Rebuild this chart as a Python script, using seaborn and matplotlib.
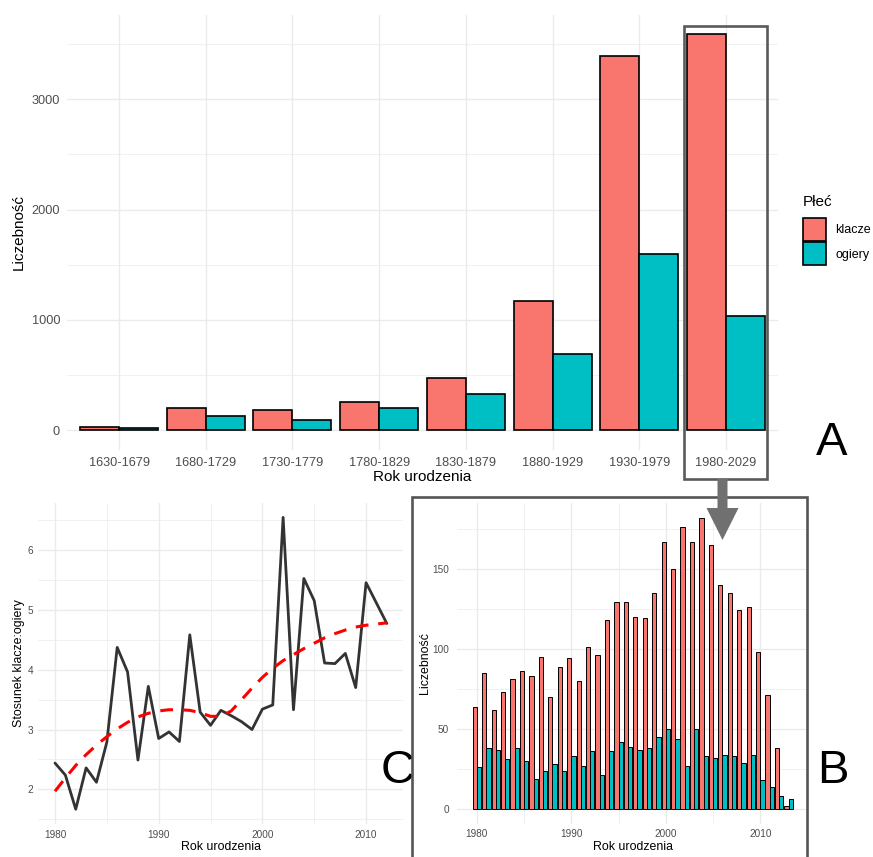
import numpy as np
import pandas as pd
import matplotlib
matplotlib.use("Agg")
import matplotlib.pyplot as plt
import seaborn as sns
from matplotlib.patches import Rectangle, Polygon, Patch
from matplotlib.ticker import FixedLocator

# ---------------- data ----------------
okresy = ["1630-1679", "1680-1729", "1730-1779", "1780-1829",
          "1830-1879", "1880-1929", "1930-1979", "1980-2029"]
klacze_okres = [30, 200, 187, 254, 471, 1171, 3388, 3587]
ogiery_okres = [25, 132, 96, 199, 326, 691, 1594, 1038]

lata = list(range(1980, 2014))
klacze_rok = [64, 85, 62, 73, 81, 86, 83, 95, 70, 89,
              94, 80, 101, 96, 118, 129, 129, 120, 119, 135,
              167, 150, 176, 167, 182, 165, 140, 135, 124, 126,
              98, 71, 38, 2]
ogiery_rok = [26, 38, 37, 31, 38, 30, 19, 24, 28, 24,
              33, 27, 36, 21, 36, 42, 39, 37, 38, 45,
              50, 44, 27, 50, 33, 32, 34, 33, 29, 34,
              18, 14, 8, 6]

lata_stos = list(range(1980, 2013))
stosunek = [2.44, 2.24, 1.67, 2.36, 2.12, 2.79, 4.37, 3.96, 2.49, 3.72,
            2.85, 2.96, 2.80, 4.58, 3.29, 3.07, 3.32, 3.23, 3.13, 3.00,
            3.34, 3.41, 6.54, 3.33, 5.52, 5.15, 4.11, 4.10, 4.27, 3.70,
            5.45, 5.11, 4.77]
trend = [1.97, 2.19, 2.40, 2.58, 2.74, 2.88, 3.01, 3.12, 3.21, 3.27,
         3.31, 3.33, 3.33, 3.32, 3.28, 3.22, 3.22, 3.31, 3.50, 3.69,
         3.87, 4.02, 4.15, 4.25, 4.35, 4.44, 4.53, 4.60, 4.66, 4.71,
         4.74, 4.76, 4.78]

plec = ["klacze", "ogiery"]
kolory = {"klacze": "#F8766D", "ogiery": "#00BFC4"}

dfA = pd.DataFrame({
    "okres": okresy * 2,
    "plec": [plec[0]] * len(okresy) + [plec[1]] * len(okresy),
    "n": klacze_okres + ogiery_okres,
})
dfB = pd.DataFrame({
    "rok": lata * 2,
    "plec": [plec[0]] * len(lata) + [plec[1]] * len(lata),
    "n": klacze_rok + ogiery_rok,
})
dfC = pd.DataFrame({"rok": lata_stos, "stosunek": stosunek, "trend": trend})

# ---------------- style ----------------
sns.set_theme(style="whitegrid")
plt.rcParams["font.family"] = ["Liberation Sans", "DejaVu Sans"]
plt.rcParams["text.color"] = "black"
plt.rcParams["axes.labelcolor"] = "black"

W, H = 873, 857
fig = plt.figure(figsize=(W / 100, H / 100), dpi=100)
fig.patch.set_facecolor("white")


def ax_px(l, t, r, b):
    return fig.add_axes([l / W, 1 - b / H, (r - l) / W, (b - t) / H])


def fx(x):
    return x / W


def fy(y):
    return 1 - y / H


GRID = "#EBEBEB"
TICKC = "#4D4D4D"


def style(ax, tick_fs, pad_x, pad_y):
    ax.set_facecolor("white")
    for s in ax.spines.values():
        s.set_visible(False)
    ax.set_axisbelow(True)
    ax.grid(True, which="major", color=GRID, lw=1.0)
    ax.grid(True, which="minor", color=GRID, lw=0.5)
    ax.tick_params(axis="both", which="both", length=0, labelsize=tick_fs,
                   labelcolor=TICKC)
    ax.tick_params(axis="x", pad=pad_x)
    ax.tick_params(axis="y", pad=pad_y)


# ---------------- panel A ----------------
axA = ax_px(67, 14.7, 778, 450.1)
sns.barplot(data=dfA, x="okres", y="n", hue="plec", palette=kolory,
            width=0.9, saturation=1, edgecolor="black", linewidth=1.2,
            legend=False, ax=axA)
axA.set_xlim(-0.6, 7.6)
axA.set_ylim(-179.35, 3766.35)
axA.set_yticks([0, 1000, 2000, 3000])
axA.yaxis.set_minor_locator(FixedLocator([500, 1500, 2500, 3500]))
style(axA, 9.2, 4.7, 5)
axA.xaxis.grid(True, which="major", color=GRID, lw=1.0)
axA.set_xlabel("Rok urodzenia", fontsize=11, labelpad=1)
axA.set_ylabel("Liczebność", fontsize=11, labelpad=4)

# legend: title placed separately, keys below it
fig.text(fx(803), fy(195), "Płeć", fontsize=11, ha="left", va="top")
handles = [Patch(facecolor=kolory[p], edgecolor="black", lw=1.2) for p in plec]
leg = axA.legend(handles, plec, loc="upper left",
                 bbox_to_anchor=(fx(803), fy(218)),
                 bbox_transform=fig.transFigure, frameon=False,
                 fontsize=9, handlelength=1.85, handleheight=2.45,
                 labelspacing=0.1, handletextpad=0.75,
                 borderpad=0, borderaxespad=0)

# ---------------- panel B ----------------
axB = ax_px(456.6, 503, 808.9, 823.6)
sns.barplot(data=dfB, x="rok", y="n", hue="plec", palette=kolory,
            native_scale=True, width=0.9, saturation=1, edgecolor="black",
            linewidth=0.7, legend=False, ax=axB)
axB.set_xlim(1977.85, 2015.15)
axB.set_ylim(-9.1, 191.1)
axB.set_xticks([1980, 1990, 2000, 2010])
axB.set_yticks([0, 50, 100, 150])
axB.xaxis.set_minor_locator(FixedLocator([1985, 1995, 2005]))
axB.yaxis.set_minor_locator(FixedLocator([25, 75, 125, 175]))
style(axB, 7.2, 4, 5.3)
axB.xaxis.grid(True, which="major", color=GRID, lw=1.0)
axB.xaxis.grid(True, which="minor", color=GRID, lw=0.5)
axB.set_xlabel("Rok urodzenia", fontsize=8.9, labelpad=1)
axB.set_ylabel("Liczebność", fontsize=8.9, labelpad=1)

# ---------------- panel C ----------------
axC = ax_px(38.4, 503, 403.4, 823.6)
sns.lineplot(data=dfC, x="rok", y="stosunek", color="#333333", lw=2.0, ax=axC)
sns.lineplot(data=dfC, x="rok", y="trend", color="#FF0000", lw=2.2, ax=axC)
axC.lines[-1].set_dashes([4.2, 3.2])
axC.set_xlim(1978.4, 2013.6)
axC.set_ylim(1.43, 6.78)
axC.set_xticks([1980, 1990, 2000, 2010])
axC.set_yticks([2, 3, 4, 5, 6])
axC.xaxis.set_minor_locator(FixedLocator([1985, 1995, 2005]))
axC.yaxis.set_minor_locator(FixedLocator([1.5, 2.5, 3.5, 4.5, 5.5, 6.5]))
style(axC, 7.2, 4.6, 3.6)
axC.set_xlabel("Rok urodzenia", fontsize=8.9, labelpad=1)
axC.set_ylabel("Stosunek klacze:ogiery", fontsize=8.9, labelpad=2)

# ---------------- annotations ----------------
fig.patches.append(Rectangle((fx(684), fy(478.5)), fx(767) - fx(684),
                             fy(26) - fy(478.5), transform=fig.transFigure,
                             fill=False, edgecolor="#5A5A5A", lw=1.9,
                             zorder=10))
fig.patches.append(Rectangle((fx(412), fy(880)), fx(807) - fx(412),
                             fy(497) - fy(880), transform=fig.transFigure,
                             fill=False, edgecolor="#555555", lw=1.9,
                             zorder=10))
arrow = [(717.5, 479), (727.5, 479), (727.5, 508), (738.5, 508),
         (722.5, 540), (706.5, 508), (717.5, 508)]
fig.patches.append(Polygon([(fx(x), fy(y)) for x, y in arrow], closed=True,
                           transform=fig.transFigure, facecolor="#707070",
                           edgecolor="none", zorder=11))

fig.text(fx(816), fy(455), "A", fontsize=34, ha="left", va="baseline",
         color="black")
fig.text(fx(817), fy(783), "B", fontsize=34, ha="left", va="baseline",
         color="black")
fig.text(fx(381), fy(783), "C", fontsize=34, ha="left", va="baseline",
         color="black")

fig.savefig("out.png", dpi=100, facecolor="white")
